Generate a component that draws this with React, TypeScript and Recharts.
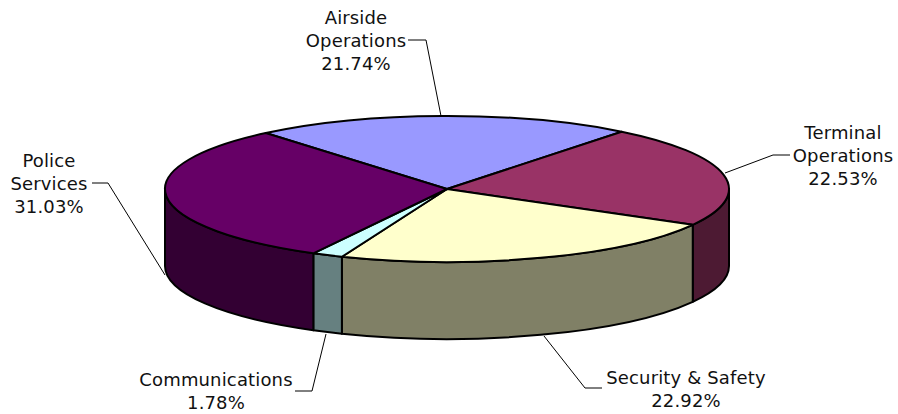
import { PieChart, Pie } from 'recharts';

const departments = ['Airside Operations', 'Terminal Operations', 'Security & Safety', 'Communications', 'Police Services'];
const shares = [21.74, 22.53, 22.92, 1.78, 31.03];
const topColors = ['#9999FF', '#993366', '#FFFFCC', '#CCFFFF', '#660066'];
const wallColors = ['#4D4D80', '#4D1A33', '#808066', '#668080', '#330033'];

// label text lines and leader polylines, one entry per department
const labelLines = [
    ['Airside', 'Operations'],
    ['Terminal', 'Operations'],
    ['Security & Safety'],
    ['Communications'],
    ['Police', 'Services'],
];
const labelAnchors = [
    { x: 356, y: 24 },
    { x: 843, y: 139 },
    { x: 686, y: 384 },
    { x: 216, y: 386 },
    { x: 49, y: 167 },
];
const leaders = [
    '408,40 426,40 441,116',
    '790,155 773,155 725,173',
    '602,388 585,388 544,336',
    '295,391 312,391 326,334',
    '92,183 108,183 165,275',
];

const WIDTH = 898;
const HEIGHT = 414;
const RX = 282;
const RY = 73;
const DEPTH = 77;
const LINE_HEIGHT = 23;

const data = departments.map((name, i) => ({
    name,
    value: shares[i],
    fill: topColors[i],
    wall: wallColors[i],
}));

const point = (cx: number, cy: number, deg: number) => {
    const rad = (deg * Math.PI) / 180;
    return { x: cx + RX * Math.cos(rad), y: cy - RY * Math.sin(rad) };
};

// top face: the sector Recharts computed, squashed into an ellipse
const TopFace = (props: any) => {
    const { cx, cy, startAngle, endAngle, fill } = props;
    const a = point(cx, cy, startAngle);
    const b = point(cx, cy, endAngle);
    const large = Math.abs(startAngle - endAngle) > 180 ? 1 : 0;
    return (
        <path
            d={`M${cx},${cy} L${a.x},${a.y} A${RX},${RY} 0 ${large} 1 ${b.x},${b.y} Z`}
            fill={fill}
            stroke="#000"
            strokeWidth={2}
            strokeLinejoin="round"
        />
    );
};

// side wall: only the part of the slice's rim facing the viewer
const SideWall = (props: any) => {
    const { cx, cy, startAngle, endAngle, payload, wall } = props;
    const hi = Math.min(startAngle, 0);
    const lo = Math.max(endAngle, -180);
    if (hi <= lo) return <g />;
    const a = point(cx, cy, hi);
    const b = point(cx, cy, lo);
    return (
        <path
            d={`M${a.x},${a.y} A${RX},${RY} 0 0 1 ${b.x},${b.y} L${b.x},${b.y + DEPTH} A${RX},${RY} 0 0 0 ${a.x},${a.y + DEPTH} Z`}
            fill={wall ?? payload?.wall}
            stroke="#000"
            strokeWidth={2}
            strokeLinejoin="round"
        />
    );
};

const renderLabel = ({ index }: any) => {
    const anchor = labelAnchors[index];
    const lines = [...labelLines[index], `${shares[index].toFixed(2)}%`];
    return (
        <g key={departments[index]}>
            <polyline points={leaders[index]} fill="none" stroke="#000" strokeWidth={1} />
            <text
                textAnchor="middle"
                fontFamily="'DejaVu Sans', Verdana, sans-serif"
                fontSize={18}
                letterSpacing={0.15}
                fill="#111"
            >
                {lines.map((line, i) => (
                    <tspan key={line} x={anchor.x} y={anchor.y + i * LINE_HEIGHT}>
                        {line}
                    </tspan>
                ))}
            </text>
        </g>
    );
};

export default function App() {
    return (
        <div style={{ position: 'absolute', left: 0, top: 0, width: WIDTH, height: HEIGHT, background: '#fff' }}>
            <PieChart width={WIDTH} height={HEIGHT} margin={{ top: 0, right: 0, bottom: 0, left: 0 }}>
                <Pie
                    data={data}
                    dataKey="value"
                    nameKey="name"
                    cx={447}
                    cy={189}
                    outerRadius={RX}
                    startAngle={130}
                    endAngle={-230}
                    paddingAngle={0}
                    stroke="none"
                    shape={SideWall}
                    isAnimationActive={false}
                />
                <Pie
                    data={data}
                    dataKey="value"
                    nameKey="name"
                    cx={447}
                    cy={189}
                    outerRadius={RX}
                    startAngle={130}
                    endAngle={-230}
                    paddingAngle={0}
                    stroke="none"
                    shape={TopFace}
                    label={renderLabel}
                    labelLine={false}
                    isAnimationActive={false}
                />
            </PieChart>
        </div>
    );
}
